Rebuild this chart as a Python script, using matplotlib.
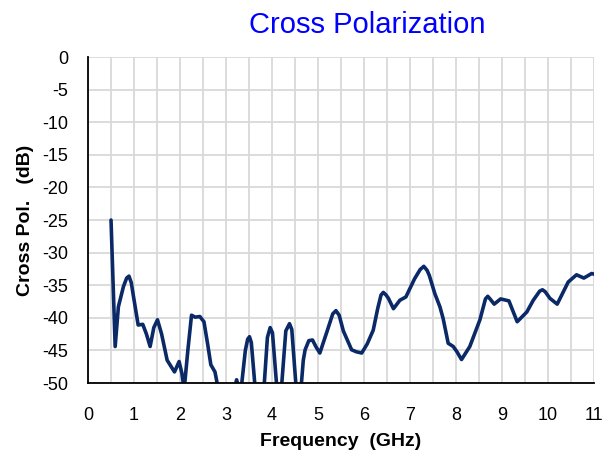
import numpy as np
import matplotlib
matplotlib.use('Agg')
import matplotlib.pyplot as plt
from matplotlib.ticker import MultipleLocator

# Frequency (GHz) and cross polarization (dB)
freq = [0.50, 0.59, 0.66, 0.77, 0.84, 0.89, 0.94, 0.99, 1.09, 1.19, 1.27, 1.35, 1.43, 1.51,
        1.60, 1.72, 1.88, 1.98, 2.04, 2.09, 2.17, 2.25, 2.33, 2.43, 2.52, 2.60,
        2.67, 2.76, 2.82, 2.90, 3.05, 3.15, 3.23, 3.29, 3.34, 3.42, 3.47, 3.51, 3.55,
        3.63, 3.72, 3.83, 3.90, 3.96, 4.01, 4.10, 4.15, 4.21, 4.30, 4.38, 4.43,
        4.52, 4.58, 4.64, 4.68, 4.72, 4.80, 4.88, 4.96, 5.04, 5.20, 5.32, 5.39, 5.46, 5.55,
        5.73, 5.83, 5.95, 6.07, 6.20, 6.30, 6.37, 6.42, 6.48, 6.53, 6.64, 6.78, 6.91, 7.10,
        7.22, 7.30, 7.37, 7.42, 7.54, 7.65, 7.72, 7.83, 7.94, 8.02, 8.12, 8.30, 8.52, 8.64, 8.69,
        8.74, 8.83, 8.97, 9.15, 9.33, 9.54, 9.68, 9.82, 9.88, 9.94, 10.04, 10.20, 10.44, 10.62,
        10.78, 10.95, 11.00]
xpol = [-25.0, -44.4, -38.3, -35.2, -33.9, -33.6, -34.6, -36.8, -41.1, -41.0, -42.5, -44.4, -41.5, -40.3,
        -42.5, -46.5, -48.3, -46.7, -48.5, -51.0, -45.0, -39.6, -39.9, -39.8, -40.6, -44.0,
        -47.2, -48.3, -50.5, -55.0, -57.0, -52.0, -49.5, -51.0, -50.2, -45.0, -43.3, -42.9, -43.8,
        -50.5, -53.0, -50.3, -43.0, -41.5, -42.3, -50.3, -52.0, -50.3, -42.0, -40.9, -41.8,
        -50.3, -52.0, -50.0, -46.5, -44.9, -43.5, -43.4, -44.5, -45.4, -42.0, -39.4, -38.9, -39.6, -42.0,
        -44.9, -45.2, -45.4, -44.0, -41.9, -38.5, -36.5, -36.1, -36.5, -37.0, -38.6, -37.3, -36.8, -34.0,
        -32.6, -32.1, -32.7, -33.5, -36.3, -38.3, -40.1, -43.9, -44.4, -45.2, -46.4, -44.4, -40.3, -37.1, -36.7,
        -37.1, -37.9, -37.1, -37.4, -40.6, -39.1, -37.3, -35.9, -35.7, -36.0, -37.0, -37.9, -34.5, -33.4,
        -33.9, -33.2, -33.3]

title = 'Cross Polarization'
xlabel = 'Frequency  (GHz)'
ylabel = 'Cross Pol.   (dB)'

plt.rcParams['font.family'] = ['Liberation Sans', 'DejaVu Sans']
plt.rcParams['axes.unicode_minus'] = False

fig = plt.figure(figsize=(6.13, 4.53), dpi=100)
ax = fig.add_axes([0.1436, 0.1545, 0.8254, 0.7195])

ax.plot(freq, xpol, color='#0b2966', linewidth=2.6, solid_joinstyle='round',
        solid_capstyle='round')

ax.set_xlim(0, 11)
ax.set_ylim(-50, 0)
ax.xaxis.set_major_locator(MultipleLocator(1))
ax.xaxis.set_minor_locator(MultipleLocator(0.5))
ax.yaxis.set_major_locator(MultipleLocator(5))

ax.grid(True, which='both', color='#d9d9d9', linewidth=1.3)
ax.set_axisbelow(True)

for s in ['top', 'right']:
    ax.spines[s].set_visible(False)
for s in ['left', 'bottom']:
    ax.spines[s].set_color('black')
    ax.spines[s].set_linewidth(1.3)

ax.tick_params(which='both', length=0, labelsize=13)
ax.tick_params(axis='y', pad=14)
ax.tick_params(axis='x', pad=17)

ax.set_xlabel(xlabel, fontsize=14, fontweight='bold', labelpad=7)
ax.set_ylabel(ylabel, fontsize=14, fontweight='bold', labelpad=6)

fig.text(0.599, 0.945, title, color='#0000ff', fontsize=21, ha='center', va='center')

plt.savefig('out.png', dpi=100)
